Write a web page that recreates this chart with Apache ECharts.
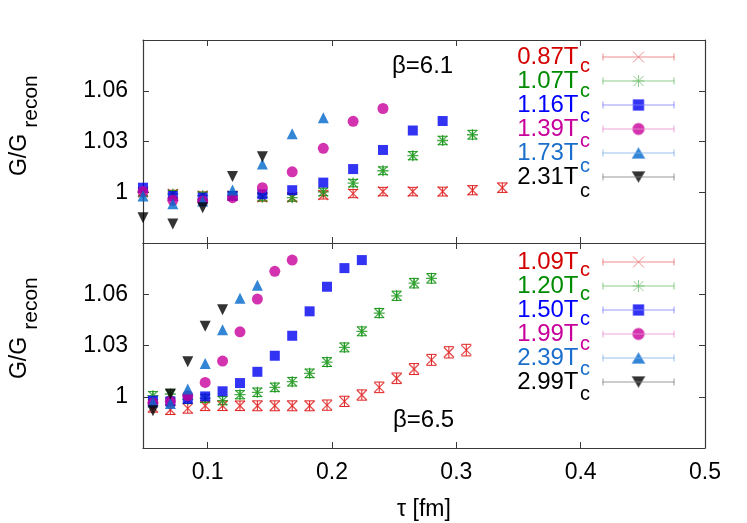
<!DOCTYPE html>
<html><head><meta charset="utf-8">
<script src="https://cdn.jsdelivr.net/npm/echarts@6/dist/echarts.min.js"></script>
<style>html,body{margin:0;padding:0;background:#fff}#c{width:747px;height:523px}</style>
</head><body><div id="c"></div>
<script>
// ---------- data ----------
const tau61 = [0.048,0.072,0.096,0.120,0.144,0.168,0.193,0.217,0.241,0.265,0.289,0.313,0.337];
const tau65 = [0.056,0.070,0.084,0.098,0.112,0.126,0.140,0.154,0.168,0.182,0.196,0.210,0.224,0.238,0.252,0.266,0.280,0.294,0.308];

// beta = 6.1
const b61_087 = [1.000,0.999,0.998,0.998,0.997,0.997,0.9984,0.9992,1.0004,1.0004,1.0004,1.0012,1.0027];
const e61_087 = [0.0022,0.0022,0.0022,0.0022,0.0023,0.0023,0.0024,0.0024,0.0025,0.0025,0.0026,0.0027,0.0028];
const b61_107 = [1.000,0.999,0.998,0.998,0.997,0.9968,1.0002,1.0054,1.0127,1.0216,1.0306,1.034];
const e61_107 = [0.002,0.002,0.002,0.002,0.002,0.002,0.0022,0.0022,0.0023,0.0024,0.0025,0.0026];
const b61_116 = [1.0027,0.9978,0.9968,0.9978,0.9988,1.0012,1.0057,1.0137,1.025,1.0365,1.0421];
const b61_139 = [1.0004,0.9952,0.9948,0.9968,1.0027,1.0121,1.026,1.0419,1.0495];
const b61_173 = [0.9978,0.9932,0.9948,1.0014,1.0167,1.0346,1.0441];
const b61_231 = [0.9849,0.9813,0.9908,1.0093,1.021];

// beta = 6.5
const b65_109 = [0.9938,0.9924,0.9932,0.9947,0.9947,0.9947,0.9947,0.9947,0.9947,0.9947,0.9951,0.9973,1.001,1.0055,1.0108,1.0162,1.0216,1.026,1.0273];
const e65_109 = [0.0028,0.0028,0.0028,0.0028,0.0028,0.0028,0.0029,0.0029,0.0029,0.0029,0.003,0.003,0.003,0.0031,0.0031,0.0032,0.0032,0.0033,0.0034];
const b65_120 = [1.0006,1.0016,0.9985,0.999,0.9977,1.0012,1.0026,1.0055,1.0088,1.0137,1.0203,1.0289,1.0383,1.049,1.0591,1.0665,1.0693];
const e65_120 = [0.0024,0.0024,0.0024,0.0024,0.0024,0.0024,0.0025,0.0025,0.0025,0.0025,0.0026,0.0026,0.0026,0.0027,0.0027,0.0028,0.0028];
const b65_150 = [0.9977,0.9973,0.9987,1.0002,1.0032,1.008,1.0146,1.024,1.0357,1.05,1.0644,1.0753,1.08];
const b65_199 = [0.9963,0.9973,1.0006,1.0084,1.0209,1.038,1.0572,1.0734,1.08];
const b65_239 = [0.997,0.9961,1.0045,1.0195,1.0392,1.0576,1.0653];
const b65_299 = [0.9918,1.0016,1.0205,1.0412,1.0509];

const names61 = ['0.87','1.07','1.16','1.39','1.73','2.31'];
const names65 = ['1.09','1.20','1.50','1.99','2.39','2.99'];
const xTicks = [0.1,0.2,0.3,0.4,0.5];
const yTicks = [1,1.03,1.06];
const xRange = [0.048,0.5];
const yRange = [0.97,1.09];

// ---------- styling ----------
const FONT = '"Liberation Sans", Arial, sans-serif';
const AX = '#3a3a3a';
const keys = ['r','g','b','m','c','k'];
const textCol = {r:'#d40000', g:'#008c00', b:'#0000ff', m:'#c8009b', c:'#1a6fcc', k:'#000000'};
const markCol = {r:'#e02020', g:'#1a961a', b:'#0000f0', m:'#c8009b', c:'#0066cc', k:'#000000'};
const lineCol = {r:'#e87070', g:'#70c070', b:'#8080ff', m:'#e890d0', c:'#80b0e8', k:'#808080'};

const crossPath = 'path://M0 0L10 10M10 0L0 10';
const starPath = 'path://M0 0L10 10M10 0L0 10M5 -1L5 11M-1 5L11 5';
const symbols = [
  {symbol: crossPath, size: 10, stroke: true},
  {symbol: starPath, size: 11, stroke: true},
  {symbol: 'rect', size: 10},
  {symbol: 'circle', size: 11},
  {symbol: 'triangle', size: 11},
  {symbol: 'triangle', size: 11, rotate: 180}
];
const base = 'M0 6L72 6M0.5 2.5L0.5 9.5M71.5 2.5L71.5 9.5';
const iconMarks = [
  'M30.5 0.5L41.5 11.5M41.5 0.5L30.5 11.5',
  'M31 1L41 11M41 1L31 11M36 0L36 12M30 6L42 6',
  'M30.5 0.5H41.5V11.5H30.5Z',
  'M42 6A6 6 0 1 1 30 6A6 6 0 1 1 42 6Z',
  'M36 0.5L42.5 11.5L29.5 11.5Z',
  'M29.5 0.5L42.5 0.5L36 11.5Z'
];

function zip(xs, ys) { return ys.map((v, i) => [xs[i], v]); }

function scatter(name, xs, ys, idx, g) {
  const s = symbols[idx], k = keys[idx];
  return {
    type: 'scatter', name: name, xAxisIndex: g * 2, yAxisIndex: g * 2,
    data: zip(xs, ys), symbol: s.symbol, symbolSize: s.size, symbolRotate: s.rotate || 0,
    symbolKeepAspect: false,
    itemStyle: s.stroke ? {color: 'rgba(0,0,0,0)', borderColor: markCol[k], borderWidth: 1.3}
                        : {color: markCol[k]},
    silent: true
  };
}
function errbars(xs, ys, es, idx, g) {
  const col = markCol[keys[idx]];
  return {
    type: 'custom', xAxisIndex: g * 2, yAxisIndex: g * 2, silent: true,
    data: ys.map((v, i) => [xs[i], v, es[i]]), encode: {x: 0, y: 1},
    renderItem: function (params, api) {
      const x = api.value(0), y = api.value(1), e = api.value(2);
      const p1 = api.coord([x, y + e]), p2 = api.coord([x, y - e]);
      const w = 5, st = {stroke: col, lineWidth: 1};
      return {type: 'group', children: [
        {type: 'line', shape: {x1: p1[0], y1: p1[1], x2: p2[0], y2: p2[1]}, style: st},
        {type: 'line', shape: {x1: p1[0] - w, y1: p1[1], x2: p1[0] + w, y2: p1[1]}, style: st},
        {type: 'line', shape: {x1: p2[0] - w, y1: p2[1], x2: p2[0] + w, y2: p2[1]}, style: st}
      ]};
    }
  };
}

function xAx(g, pos, labels) {
  return {
    type: 'value', gridIndex: g, position: pos, min: xRange[0], max: xRange[1],
    axisLine: {show: true, onZero: false, lineStyle: {color: AX, width: 1.2}},
    axisTick: {show: true, inside: true, length: 6, customValues: xTicks, lineStyle: {color: AX, width: 1}},
    axisLabel: {show: labels, customValues: xTicks, fontSize: 23, color: '#000', fontFamily: FONT, margin: 13},
    splitLine: {show: false},
    name: labels ? 'τ [fm]' : '', nameLocation: 'middle', nameGap: 50,
    nameTextStyle: {fontSize: 23, color: '#000', fontFamily: FONT}
  };
}
function yAx(g, pos, labels, pad) {
  return {
    type: 'value', gridIndex: g, position: pos, min: yRange[0], max: yRange[1],
    axisLine: {show: true, onZero: false, lineStyle: {color: AX, width: 1.2}},
    axisTick: {show: true, inside: true, length: 6, customValues: yTicks, lineStyle: {color: AX, width: 1}},
    axisLabel: {show: labels, customValues: yTicks, fontSize: 23, color: '#000', fontFamily: FONT, margin: 15},
    splitLine: {show: false},
    name: labels ? 'G/G' : '', nameLocation: 'middle', nameRotate: 90, nameGap: 111,
    nameTextStyle: {color: '#000', fontFamily: FONT, fontSize: 23, lineHeight: 24, padding: [0, pad || 0, 0, 0]}
  };
}

const rich = {};
keys.forEach(k => {
  rich[k] = {color: textCol[k], fontSize: 24, lineHeight: 25, fontFamily: FONT, padding: [0, 19, 0, 0]};
});
const nameKey = {};
names61.forEach((n, i) => nameKey[n] = keys[i]);
names65.forEach((n, i) => nameKey[n] = keys[i]);

function legendData(names) {
  return names.map((n, i) => ({
    name: n, icon: 'path://' + base + iconMarks[i],
    itemStyle: {color: i < 2 ? 'rgba(0,0,0,0)' : markCol[keys[i]], borderColor: lineCol[keys[i]], borderWidth: 1}
  }));
}
function legend(names, top) {
  return {
    orient: 'vertical', right: 72, top: top, align: 'right', itemWidth: 72, itemHeight: 12,
    itemGap: 0, padding: 0, selectedMode: false, data: legendData(names),
    formatter: n => '{' + nameKey[n] + '|' + n + 'T}',
    textStyle: {fontFamily: FONT, rich: rich}
  };
}

// subscripts (legend "c" and axis-name "recon")
const subs = [];
[[names61, 66, 25], [names65, 270, 24.9]].forEach(([names, y0, dy]) => {
  names.forEach((n, i) => subs.push({
    type: 'text', x: 580, y: y0 + dy * i, silent: true,
    style: {text: 'c', fontSize: 20, fontFamily: FONT, fill: textCol[keys[i]], align: 'left', verticalAlign: 'middle'}
  }));
});
[101.5, 303.5].forEach(cy => subs.push({
  type: 'text', x: 31.7, y: cy, rotation: Math.PI / 2, silent: true,
  style: {text: 'recon', fontSize: 21, fontFamily: FONT, fill: '#000', align: 'center', verticalAlign: 'middle'}
}));

const series = [
  scatter(names61[0], tau61, b61_087, 0, 0), errbars(tau61, b61_087, e61_087, 0, 0),
  scatter(names61[1], tau61, b61_107, 1, 0), errbars(tau61, b61_107, e61_107, 1, 0),
  scatter(names61[2], tau61, b61_116, 2, 0),
  scatter(names61[3], tau61, b61_139, 3, 0),
  scatter(names61[4], tau61, b61_173, 4, 0),
  scatter(names61[5], tau61, b61_231, 5, 0),
  scatter(names65[0], tau65, b65_109, 0, 1), errbars(tau65, b65_109, e65_109, 0, 1),
  scatter(names65[1], tau65, b65_120, 1, 1), errbars(tau65, b65_120, e65_120, 1, 1),
  scatter(names65[2], tau65, b65_150, 2, 1),
  scatter(names65[3], tau65, b65_199, 3, 1),
  scatter(names65[4], tau65, b65_239, 4, 1),
  scatter(names65[5], tau65, b65_299, 5, 1)
];

const chart = echarts.init(document.getElementById('c'), null, {renderer: 'canvas'});
chart.setOption({
  animation: false,
  backgroundColor: '#fff',
  grid: [
    {left: 142, top: 40, width: 563, height: 203},
    {left: 142, top: 243, width: 563, height: 205}
  ],
  xAxis: [xAx(0, 'bottom', false), xAx(0, 'top', false), xAx(1, 'bottom', true), xAx(1, 'top', false)],
  yAxis: [yAx(0, 'left', true, 27), yAx(0, 'right', false), yAx(1, 'left', true, 25), yAx(1, 'right', false)],
  legend: [legend(names61, 45), legend(names65, 250)],
  graphic: [
    {type: 'text', left: 421 - 29, top: 54, style: {text: 'β=6.1', fontSize: 24, fontFamily: FONT, fill: '#000'}},
    {type: 'text', left: 422 - 29, top: 408, style: {text: 'β=6.5', fontSize: 24, fontFamily: FONT, fill: '#000'}}
  ].concat(subs),
  series: series
});
</script></body></html>
